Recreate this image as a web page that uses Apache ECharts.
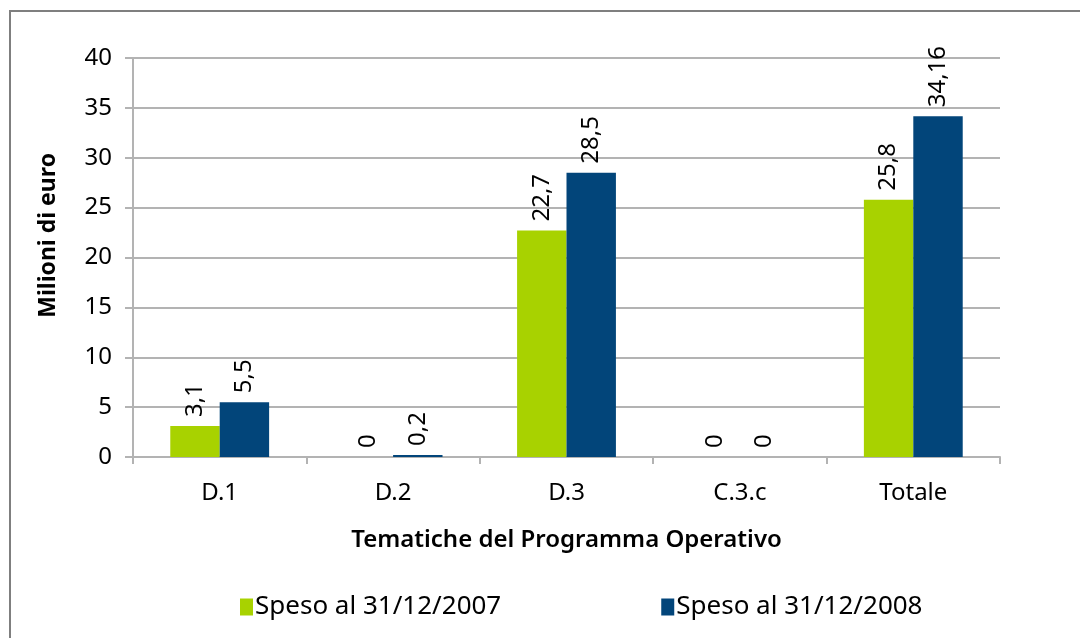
<!DOCTYPE html>
<html>
<head>
<meta charset="utf-8">
<script src="https://cdn.jsdelivr.net/npm/echarts@6/dist/echarts.min.js"></script>
<style>
  html, body { margin: 0; padding: 0; background: #fff; }
  #frame {
    position: absolute; left: 9px; top: 10px; width: 1200px; height: 700px;
    border-left: 2px solid #7f7f7f; border-top: 2px solid #7f7f7f;
  }
  #chart { position: absolute; left: 0; top: 0; width: 1080px; height: 638px; }
</style>
</head>
<body>
<div id="frame"></div>
<div id="chart"></div>
<script>
// Chart data
const categories = ['D.1', 'D.2', 'D.3', 'C.3.c', 'Totale']
const spent2007 = [3.1, 0, 22.7, 0, 25.8]
const spent2008 = [5.5, 0.2, 28.5, 0, 34.16]
const seriesNames = ['Speso al 31/12/2007', 'Speso al 31/12/2008']

const FONT = '"Noto Sans", sans-serif'
const chart = echarts.init(document.getElementById('chart'))

// comma as decimal separator, as in the source
const fmt = (p) => String(p.value).replace('.', ',')

const barLabel = {
  show: true,
  position: 'top',
  rotate: 90,
  align: 'left',
  verticalAlign: 'middle',
  distance: 9,
  color: '#000',
  fontSize: 24,
  fontFamily: FONT,
  formatter: fmt,
}

chart.setOption({
  animation: false,
  grid: { left: 133, right: 80, top: 58, bottom: 181 },
  legend: {
    bottom: 13,
    left: 235,
    itemWidth: 13,
    itemHeight: 17,
    itemGap: 160,
    icon: 'rect',
    textStyle: { fontSize: 26, fontFamily: FONT, color: '#000', padding: [0, 0, 0, -3] },
    data: seriesNames,
  },
  graphic: [{
    type: 'text',
    left: 37,
    top: 153,
    rotation: Math.PI / 2,
    style: {
      text: 'Milioni di euro',
      font: 'bold 23px "Noto Sans", sans-serif',
      fill: '#000',
    },
  }],
  xAxis: {
    type: 'category',
    data: categories,
    name: 'Tematiche del Programma Operativo',
    nameLocation: 'middle',
    nameGap: 71,
    nameTextStyle: { fontSize: 24, fontFamily: FONT, color: '#000', fontWeight: 600 },
    axisLine: { lineStyle: { color: '#b3b3b3', width: 2 } },
    axisTick: { show: true, length: 7, lineStyle: { color: '#b3b3b3', width: 2 } },
    axisLabel: { fontSize: 24, fontFamily: FONT, color: '#000', margin: 24 },
  },
  yAxis: {
    type: 'value',
    min: 0,
    max: 40,
    interval: 5,
    axisLine: { show: true, lineStyle: { color: '#b3b3b3', width: 2 } },
    axisTick: { show: true, length: 8, lineStyle: { color: '#b3b3b3', width: 2 } },
    axisLabel: { fontSize: 24, fontFamily: FONT, color: '#000', margin: 21 },
    splitLine: { lineStyle: { color: '#b3b3b3', width: 2 } },
  },
  series: [
    {
      name: seriesNames[0],
      type: 'bar',
      data: spent2007,
      barGap: '0%',
      barCategoryGap: '43%',
      itemStyle: { color: '#a8d200' },
      label: barLabel,
    },
    {
      name: seriesNames[1],
      type: 'bar',
      data: spent2008,
      itemStyle: { color: '#02457a' },
      label: barLabel,
    },
  ],
})
</script>
</body>
</html>
